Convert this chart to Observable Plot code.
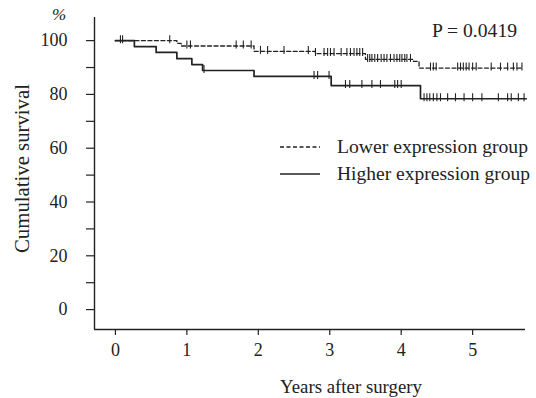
<!DOCTYPE html>
<html><head><meta charset="utf-8">
<script src="https://cdn.jsdelivr.net/npm/d3@7"></script>
<script src="https://cdn.jsdelivr.net/npm/@observablehq/plot@0.6"></script>
<style>
body{margin:0;background:#fff;}
#wrap{position:relative;width:536px;height:398px;}
svg{font-family:"Liberation Serif","Times New Roman",serif;}
</style></head><body><div id="wrap"></div>
<script>
// ---- data ----
const groups = ["Lower expression group", "Higher expression group"];
const lowerStepTimes = [0, 0.86, 0.92, 1.94, 2.80, 3.50, 4.17, 4.25];
const lowerStepSurv  = [100, 99.0, 98.0, 96.0, 95.2, 93.0, 92.3, 89.8];
const lowerEnd = 5.70;
const lowerCensor = [0.07, 0.10, 0.76, 1.00, 1.05, 1.69, 1.79, 1.90, 2.03, 2.13, 2.36, 2.70, 2.80,
  2.92, 2.97, 3.01, 3.06, 3.16, 3.24, 3.29, 3.34, 3.38, 3.42, 3.46, 3.53, 3.56, 3.59, 3.63, 3.67,
  3.72, 3.76, 3.80, 3.85, 3.90, 3.94, 3.98, 4.01, 4.05, 4.08, 4.13, 4.41, 4.45, 4.49,
  4.79, 4.83, 4.87, 4.91, 4.95, 5.00, 5.05, 5.26, 5.39, 5.49, 5.57, 5.62, 5.69];
const higherStepTimes = [0, 0.265, 0.57, 0.86, 1.07, 1.22, 1.94, 3.02, 4.27];
const higherStepSurv  = [100, 97.8, 95.6, 93.3, 91.1, 88.9, 86.7, 83.3, 78.4];
const higherEnd = 5.75;
const higherCensor = [1.24, 2.78, 2.83, 2.99, 3.22, 3.28, 3.45, 3.59, 3.71, 3.91, 3.95, 4.00,
  4.32, 4.36, 4.40, 4.45, 4.50, 4.55, 4.65, 4.76, 4.88, 5.00, 5.13, 5.36, 5.49, 5.54, 5.64, 5.72];
const xTicks = [0, 1, 2, 3, 4, 5];
const yTicks = [0, 20, 40, 60, 80, 100];
const yMinorTicks = [10, 30, 50, 70, 90];
const xLabel = "Years after surgery";
const yLabel = "Cumulative survival";
const yUnit = "%";
const pValueLabel = "P = 0.0419";

// ---- build tables ----
function stepRows(group, times, surv, end) {
  const rows = times.map((t, i) => ({group, t, s: surv[i]}));
  rows.push({group, t: end, s: surv[surv.length - 1]});
  return rows;
}
function survAt(times, surv, t) {
  let s = surv[0];
  for (let i = 0; i < times.length; i++) if (times[i] <= t) s = surv[i];
  return s;
}
const lowerLine = stepRows(groups[0], lowerStepTimes, lowerStepSurv, lowerEnd);
const higherLine = stepRows(groups[1], higherStepTimes, higherStepSurv, higherEnd);
const censorRows = [
  ...lowerCensor.map(t => ({group: groups[0], t, s: survAt(lowerStepTimes, lowerStepSurv, t)})),
  ...higherCensor.map(t => ({group: groups[1], t, s: survAt(higherStepTimes, higherStepSurv, t)}))
];

const xDomain = [-0.293, 5.74];
const yDomain = [-7.4, 108.6];
const ink = "#222";

const chart = Plot.plot({
  width: 536, height: 398,
  marginLeft: 94, marginRight: 11, marginTop: 17, marginBottom: 69,
  style: {fontFamily: '"Liberation Serif","Times New Roman",serif', fontSize: "18px", color: ink, background: "#fff"},
  x: {domain: xDomain},
  y: {domain: yDomain},
  marks: [
    Plot.axisY(yTicks, {tickSize: 8, tickPadding: 19, fontSize: 18, label: null, stroke: ink, strokeWidth: 1.2}),
    Plot.axisY(yMinorTicks, {tickSize: 8, tickFormat: () => "", label: null, stroke: ink, strokeWidth: 1.2}),
    Plot.axisX(xTicks, {tickSize: 6, tickPadding: 8, fontSize: 18, label: null, stroke: ink, strokeWidth: 1.2}),
    Plot.ruleX([xDomain[0]], {stroke: ink, strokeWidth: 1.4}),
    Plot.ruleY([yDomain[0]], {stroke: ink, strokeWidth: 1.4}),
    Plot.line(lowerLine, {x: "t", y: "s", curve: "step-after", stroke: ink, strokeWidth: 1.3, strokeDasharray: "4,2.5"}),
    Plot.line(higherLine, {x: "t", y: "s", curve: "step-after", stroke: ink, strokeWidth: 1.7}),
    Plot.ruleX(censorRows, {x: "t", y1: "s", y2: "s", insetTop: -5, insetBottom: -3, stroke: ink, strokeWidth: 1.1})
  ]
});
document.getElementById("wrap").appendChild(chart);

// ---- labels & legend (layout overlay) ----
const svg = d3.select(chart);
const font = '"Liberation Serif","Times New Roman",serif';
function label(txt, x, y, opts = {}) {
  const t = svg.append("text").attr("x", x).attr("y", y).attr("fill", ink)
    .attr("font-family", font).attr("font-size", opts.size || 18)
    .attr("text-anchor", opts.anchor || "start").text(txt);
  if (opts.len) t.attr("textLength", opts.len).attr("lengthAdjust", "spacingAndGlyphs");
  if (opts.italic) t.attr("font-style", "italic");
  if (opts.rotate) t.attr("transform", `rotate(-90 ${x} ${y})`);
  return t;
}
label(xLabel, 351, 393, {anchor: "middle", len: 142});
label(yLabel, 29, 168.5, {anchor: "middle", len: 169, size: 20, rotate: true});
label(yUnit, 59, 20, {anchor: "middle", size: 17, italic: true});
label(pValueLabel, 432, 36.5, {len: 85});
// legend
const legendY = [147, 174];
svg.append("line").attr("x1", 280).attr("x2", 320).attr("y1", legendY[0]).attr("y2", legendY[0])
  .attr("stroke", ink).attr("stroke-width", 1.3).attr("stroke-dasharray", "4,2.5");
svg.append("line").attr("x1", 280).attr("x2", 320).attr("y1", legendY[1]).attr("y2", legendY[1])
  .attr("stroke", ink).attr("stroke-width", 1.3);
label(groups[0], 337, legendY[0] + 5.5, {len: 191});
label(groups[1], 337, legendY[1] + 5.5, {len: 193});
</script></body></html>
